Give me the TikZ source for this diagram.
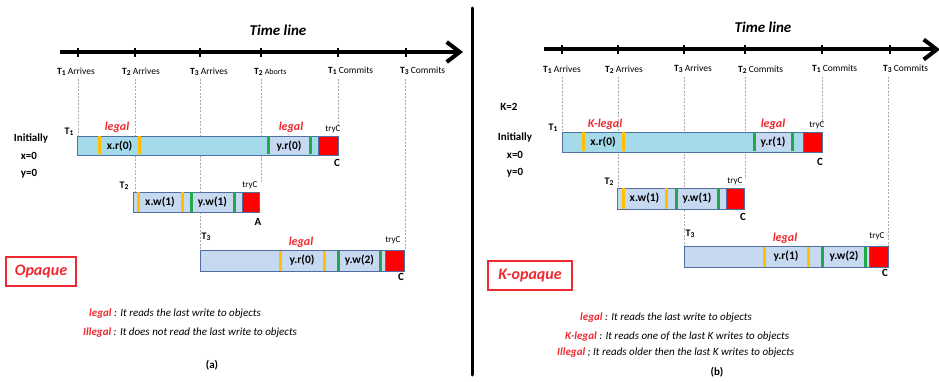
\documentclass[tikz,border=0pt]{standalone}
\usepackage{fontspec}
\setmainfont{Carlito}
\usetikzlibrary{arrows.meta}
\definecolor{skyb}{HTML}{A5DAEA}
\definecolor{paleb}{HTML}{C6D9F1}
\definecolor{edgeb}{HTML}{4F6FA0}
\definecolor{orng}{HTML}{FFC000}
\definecolor{grn}{HTML}{22A84A}
\definecolor{redt}{HTML}{EE2A30}
\newcommand{\Tn}[1]{\textbf{T}\raisebox{-0.6pt}{\fontsize{7.5}{8}\selectfont\bfseries #1}}
\begin{document}
\begin{tikzpicture}[x=1pt,y=-1pt,
  lbl/.style={font=\fontsize{9.5}{11}\selectfont, inner sep=0, anchor=west},
  ttl/.style={font=\fontsize{15}{17}\selectfont\bfseries\itshape, inner sep=0},
  optxt/.style={font=\fontsize{11.5}{13}\selectfont\bfseries, inner sep=0},
  lg/.style={font=\fontsize{12}{14}\selectfont\bfseries\itshape, text=redt, inner sep=0},
  tryc/.style={font=\fontsize{9}{10}\selectfont, inner sep=0},
  res/.style={font=\fontsize{11}{12}\selectfont\bfseries, inner sep=0},
  tname/.style={font=\fontsize{10}{11}\selectfont\bfseries, inner sep=0},
  init/.style={font=\fontsize{11}{12}\selectfont\bfseries, inner sep=0},
  guide/.style={draw=gray!65, dash pattern=on 2pt off 1.5pt, line width=0.5pt},
  tline/.style={line width=4pt, -{Straight Barb[length=13pt,width=20pt]}},
  tickmark/.style={line width=1.8pt},
  barA/.style={draw=edgeb, fill=skyb, line width=0.9pt},
  barB/.style={draw=edgeb, fill=paleb, line width=0.9pt},
  redbox/.style={draw=edgeb, fill=red, line width=0.5pt},
  mko/.style={fill=orng},
  mkg/.style={fill=grn},
  modebox/.style={draw=redt, line width=2.2pt, inner sep=0, text=redt,
     font=\fontsize{16}{18}\selectfont\bfseries\itshape},
  legend/.style={font=\fontsize{11}{13}\selectfont\itshape, inner sep=0, anchor=west},
  captxt/.style={font=\fontsize{11}{13}\selectfont\bfseries, inner sep=0}
]
\useasboundingbox (0,0) rectangle (939,382);
\fill[white] (0,0) rectangle (939,382);

% ================= LEFT PANEL =================
\node[ttl] (titleA) at (278,30) {Time line};
\coordinate (tlAs) at (60,52);
\coordinate (tlAe) at (463,52);
\draw[tline] (tlAs) -- (tlAe);
\foreach \x in {78,135,200,261,338,406} \draw[tickmark] (\x,48) -- (\x,57);

\node[lbl] (a1) at (57,72) {\Tn{1} Arrives};
\node[lbl] (a2) at (122,72) {\Tn{2} Arrives};
\node[lbl] (a3) at (190,72) {\Tn{3} Arrives};
\node[lbl] (a4) at (254,72) {\Tn{2}\ {\fontsize{8}{9}\selectfont Aborts}};
\node[lbl] (a5) at (328,71) {\Tn{1} Commits};
\node[lbl] (a6) at (400,71) {\Tn{3} Commits};

\draw[guide] (78,79) -- (78,136);
\draw[guide] (135,79) -- (135,192);
\draw[guide] (200,79) -- (200,250);
\draw[guide] (261,79) -- (261,184);
\draw[guide] (338,79) -- (338,127);
\draw[guide] (405,79) -- (405,250);

\node[init] (iniA) at (31,138) {Initially};
\node[init] (xA) at (29,156) {x=0};
\node[init] (yA) at (29,174) {y=0};

% T1 left
\draw[barA] (77,136) rectangle (338,155);
\fill[paleb] (268,137) rectangle (310,154);
\fill[mko] (97.5,136.5) rectangle (100.5,154.5);
\fill[mko] (137.5,136.5) rectangle (140.5,154.5);
\fill[mkg] (266.5,136.5) rectangle (269.5,154.5);
\fill[mkg] (308.5,136.5) rectangle (311.5,154.5);
\draw[redbox] (318,136.5) rectangle (338,155);
\node[optxt] (op1) at (119.5,146) {x.r(0)};
\node[optxt] (op2) at (289,146) {y.r(0)};
\node[tname] (T1A) at (69,132) {\Tn{1}};
\node[lg] (lgA1) at (117,127) {legal};
\node[lg] (lgA2) at (291,127) {legal};
\node[tryc] (tcA1) at (333,129) {tryC};
\node[res] (rA1) at (337,163) {C};

% T2 left
\draw[barB] (133,192) rectangle (259,212);
\fill[mko] (136.5,192.5) rectangle (139.5,211.5);
\fill[mko] (180.5,192.5) rectangle (183.5,211.5);
\fill[mkg] (189.5,192.5) rectangle (192.5,211.5);
\fill[mkg] (232.5,192.5) rectangle (235.5,211.5);
\draw[redbox] (242,192.5) rectangle (259,212);
\node[optxt] (op3) at (160,202) {x.w(1)};
\node[optxt] (op4) at (212.5,202) {y.w(1)};
\node[tname] (T2A) at (124,186) {\Tn{2}};
\node[tryc] (tcA2) at (250,185) {tryC};
\node[res] (rA2) at (258,222) {A};

% T3 left
\draw[barB] (200,250) rectangle (404,271);
\fill[mko] (278.5,250.5) rectangle (281.5,270.5);
\fill[mko] (322.5,250.5) rectangle (325.5,270.5);
\fill[mkg] (336.5,250.5) rectangle (339.5,270.5);
\fill[mkg] (378.5,250.5) rectangle (381.5,270.5);
\draw[redbox] (385,250.5) rectangle (404,271);
\node[optxt] (op5) at (302,260.5) {y.r(0)};
\node[optxt] (op6) at (359.5,260.5) {y.w(2)};
\node[tname] (T3A) at (206,237) {\Tn{3}};
\node[lg] (lgA3) at (301,242) {legal};
\node[tryc] (tcA3) at (393,240) {tryC};
\node[res] (rA3) at (401,277) {C};

\node[modebox, minimum width=70pt, minimum height=29pt] (opq) at (41,271.5) {Opaque};

\node[legend] (legA1) at (89,314) {\textcolor{redt}{\bfseries legal} : It reads the last write to objects};
\node[legend] (legA2) at (83,333) {\textcolor{redt}{\bfseries Illegal} : It does not read the last write to objects};
\node[captxt] (capA) at (212,365) {(a)};

% divider
\draw[line width=3pt, line cap=round] (472,8) -- (472,375);

% ================= RIGHT PANEL =================
\node[ttl] (titleB) at (763,27) {Time line};
\coordinate (tlBs) at (544,49.5);
\coordinate (tlBe) at (940,49.5);
\draw[tline] (tlBs) -- (tlBe);
\foreach \x in {562,618,684,745,822,890} \draw[tickmark] (\x,45.5) -- (\x,54.5);

\node[lbl] (b1) at (543,70) {\Tn{1} Arrives};
\node[lbl] (b2) at (605,70) {\Tn{2} Arrives};
\node[lbl] (b3) at (674,69) {\Tn{3} Arrives};
\node[lbl] (b4) at (738,70) {\Tn{2} Commits};
\node[lbl] (b5) at (812,69) {\Tn{1} Commits};
\node[lbl] (b6) at (883,69) {\Tn{3} Commits};

\draw[guide] (562,77) -- (562,132);
\draw[guide] (618,77) -- (618,188);
\draw[guide] (684,77) -- (684,246);
\draw[guide] (745,77) -- (745,179);
\draw[guide] (822,77) -- (822,124);
\draw[guide] (888,77) -- (888,246);

\node[init] (kB) at (509,107) {K=2};
\node[init] (iniB) at (515,137) {Initially};
\node[init] (xB) at (515,155) {x=0};
\node[init] (yB) at (515,173) {y=0};

% T1 right
\draw[barA] (562,132) rectangle (822,152);
\fill[paleb] (754,133) rectangle (792,151);
\fill[mko] (581.5,132.5) rectangle (584.5,151.5);
\fill[mko] (621.5,132.5) rectangle (624.5,151.5);
\fill[mkg] (752.5,132.5) rectangle (755.5,151.5);
\fill[mkg] (790.5,132.5) rectangle (793.5,151.5);
\draw[redbox] (803,132.5) rectangle (822,152);
\node[optxt] (op7) at (603,142) {x.r(0)};
\node[optxt] (op8) at (773,142) {y.r(1)};
\node[tname] (T1B) at (553,128) {\Tn{1}};
\node[lg] (lgB1) at (605,124) {K-legal};
\node[lg] (lgB2) at (773,124) {legal};
\node[tryc] (tcB1) at (817,125) {tryC};
\node[res] (rB1) at (820,162) {C};

% T2 right
\draw[barB] (617,188) rectangle (744,209);
\fill[mko] (621.5,188.5) rectangle (624.5,208.5);
\fill[mko] (664.5,188.5) rectangle (667.5,208.5);
\fill[mkg] (674.5,188.5) rectangle (677.5,208.5);
\fill[mkg] (716.5,188.5) rectangle (719.5,208.5);
\draw[redbox] (726,188.5) rectangle (744,209);
\node[optxt] (op9) at (644.5,198.5) {x.w(1)};
\node[optxt] (op10) at (697,198.5) {y.w(1)};
\node[tname] (T2B) at (609,182) {\Tn{2}};
\node[tryc] (tcB2) at (735,181) {tryC};
\node[res] (rB2) at (743,217) {C};

% T3 right
\draw[barB] (684,246) rectangle (888,267);
\fill[mko] (762.5,246.5) rectangle (765.5,266.5);
\fill[mko] (806.5,246.5) rectangle (809.5,266.5);
\fill[mkg] (820.5,246.5) rectangle (823.5,266.5);
\fill[mkg] (863.5,246.5) rectangle (866.5,266.5);
\draw[redbox] (869,246.5) rectangle (888,267);
\node[optxt] (op11) at (786,256.5) {y.r(1)};
\node[optxt] (op12) at (844,256.5) {y.w(2)};
\node[tname] (T3B) at (690,234) {\Tn{3}};
\node[lg] (lgB3) at (785,238) {legal};
\node[tryc] (tcB3) at (877,236) {tryC};
\node[res] (rB3) at (885,273) {C};

\node[modebox, minimum width=84pt, minimum height=29pt] (kopq) at (530,275.5) {K-opaque};

\node[legend] (legB1) at (580,318) {\textcolor{redt}{\bfseries legal} : It reads the last write to objects};
\node[legend] (legB2) at (565,337) {\textcolor{redt}{\bfseries K-legal} : It reads one of the last K writes to objects};
\node[legend] (legB3) at (557,353) {\textcolor{redt}{\bfseries Illegal} ; It reads older then the last K writes to objects};
\node[captxt] (capB) at (717,372) {(b)};
\end{tikzpicture}
\end{document}
